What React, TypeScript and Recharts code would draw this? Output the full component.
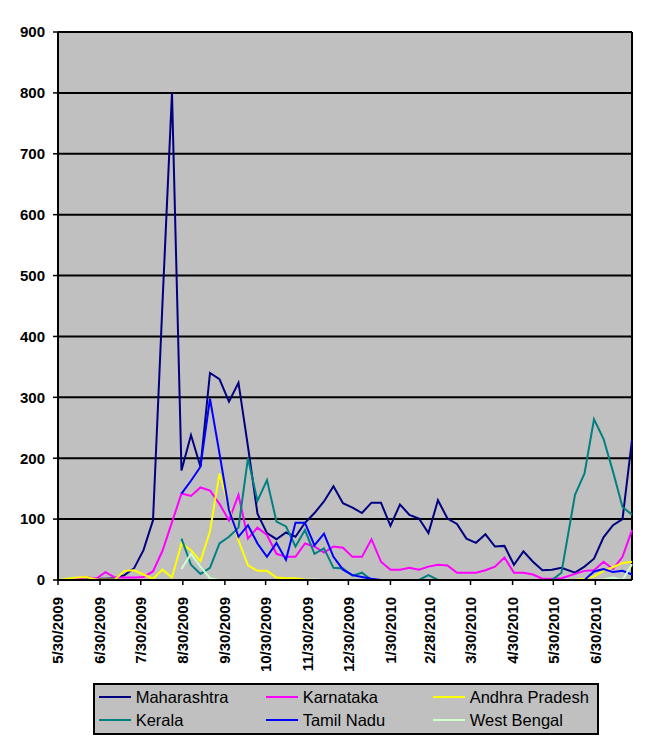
import React from "react";
import {
  LineChart,
  Line,
  XAxis,
  YAxis,
  CartesianGrid,
  Legend,
  ReferenceLine,
} from "recharts";

const FONT = '"Liberation Sans", Arial, Helvetica, sans-serif';

// weekly report dates
const dates = [
  "2009-05-30", "2009-06-06", "2009-06-13", "2009-06-20", "2009-06-27",
  "2009-07-04", "2009-07-11", "2009-07-18", "2009-07-25", "2009-08-01",
  "2009-08-08", "2009-08-15", "2009-08-22", "2009-08-29", "2009-09-05",
  "2009-09-12", "2009-09-19", "2009-09-26", "2009-10-03", "2009-10-10",
  "2009-10-17", "2009-10-24", "2009-10-31", "2009-11-07", "2009-11-14",
  "2009-11-21", "2009-11-28", "2009-12-05", "2009-12-12", "2009-12-19",
  "2009-12-26", "2010-01-02", "2010-01-09", "2010-01-16", "2010-01-23",
  "2010-01-30", "2010-02-06", "2010-02-13", "2010-02-20", "2010-02-27",
  "2010-03-06", "2010-03-13", "2010-03-20", "2010-03-27", "2010-04-03",
  "2010-04-10", "2010-04-17", "2010-04-24", "2010-05-01", "2010-05-08",
  "2010-05-15", "2010-05-22", "2010-05-29", "2010-06-05", "2010-06-15",
  "2010-06-22", "2010-06-29", "2010-07-06", "2010-07-13", "2010-07-20",
  "2010-07-27",
];

const N = null;

const maharashtra = [
  0, 0, 1, 1, 2, 2, 3, 8, 19, 49,
  98, 455, 800, 180, 238, 186, 340, 330, 293, 324,
  219, 109, 77, 67, 78, 71, 94, 110, 129, 154,
  126, 119, 110, 127, 127, 89, 124, 107, 101, 77,
  131, 101, 92, 68, 61, 75, 55, 56, 25, 47,
  30, 16, 17, 20, 12, 22, 35, 70, 90, 100,
  230,
];

const karnataka = [
  0, 0, 2, 5, 2, 13, 4, 4, 4, 5,
  14, 48, 95, 142, 138, 152, 147, 125, 98, 140,
  68, 86, 74, 43, 38, 38, 60, 55, 45, 55,
  53, 38, 38, 67, 30, 17, 17, 20, 17, 22,
  25, 24, 12, 12, 12, 16, 22, 37, 12, 12,
  9, 2, 2, 3, 10, 15, 16, 30, 18, 38,
  82,
];

const andhraPradesh = [
  0, 2, 4, 5, 1, 1, 1, 15, 16, 9,
  2, 17, 4, 60, 49, 31, 80, 175, 120, 65,
  24, 15, 15, 4, 3, 3, 1, 0, 0, 0,
  0, 0, 0, 0, 0, 0, 0, 0, 0, 0,
  0, 0, 0, 0, 0, 0, 0, 0, 0, 0,
  0, 0, 0, 0, 0, 2, 6, 15, 21, 28,
  30,
];

const kerala = [
  N, N, N, N, N, N, N, N, N, N, N, N, N,
  68, 25, 10, 20, 60, 71, 86, 200, 130, 164,
  96, 88, 55, 82, 43, 52, 20, 19, 7, 12,
  0, 0, 0, 0, 0, 0, 8, 0, 0, 0,
  0, 0, 0, 0, 0, 0, 0, 0, 0, 0,
  12, 140, 175, 264, 232, 178, 120, 107,
];

const tamilNadu = [
  N, N, N, N, N, N, N, N, N, N, N, N, N,
  142, 163, 186, 298, 208, 115, 71, 90, 60, 38,
  61, 33, 94, 94, 57, 76, 38, 17, 8, 5,
  2, 0, 0, 0, 0, 0, 0, 0, 0, 0,
  0, 0, 0, 0, 0, 0, 0, 0, 0, 0,
  0, 0, 0, 14, 18, 13, 15, 9,
];

const westBengal = [
  N, N, N, N, N, N, N, N, N, N, N, N, N,
  18, 43, 22, 3, 0, 0, 0, 0, 0, 0,
  0, 0, 0, 0, 1, 0, 0, 0, 0, 0,
  0, 0, 0, 0, 0, 0, 0, 0, 0, 0,
  0, 0, 0, 0, 0, 0, 0, 0, 0, 0,
  0, 0, 0, 0, 1, 4, 0, 26,
];

const tickDates = [
  "2009-05-30", "2009-06-30", "2009-07-30", "2009-08-30", "2009-09-30",
  "2009-10-30", "2009-11-30", "2009-12-30", "2010-01-30", "2010-02-28",
  "2010-03-30", "2010-04-30", "2010-05-30", "2010-06-30",
];
const tickLabels = [
  "5/30/2009", "6/30/2009", "7/30/2009", "8/30/2009", "9/30/2009",
  "10/30/2009", "11/30/2009", "12/30/2009", "1/30/2010", "2/28/2010",
  "3/30/2010", "4/30/2010", "5/30/2010", "6/30/2010",
];

const yTicks = [0, 100, 200, 300, 400, 500, 600, 700, 800, 900];

const series = [
  { name: "Maharashtra", color: "#000080", values: maharashtra },
  { name: "Karnataka", color: "#FF00FF", values: karnataka },
  { name: "Andhra Pradesh", color: "#FFFF00", values: andhraPradesh },
  { name: "Kerala", color: "#008080", values: kerala },
  { name: "Tamil Nadu", color: "#0000FF", values: tamilNadu },
  { name: "West Bengal", color: "#CCFFCC", values: westBengal },
];
const seriesOrder = series.map((s) => s.name);

const data = dates.map((d, i) => {
  const row: Record<string, number | null> = { t: Date.parse(d) };
  series.forEach((s) => {
    row[s.name] = s.values[i];
  });
  return row;
});

const tickTimes = tickDates.map((d) => Date.parse(d));
const tStart = Date.parse(dates[0]);
const tEnd = Date.parse(dates[dates.length - 1]);

function DateTick(props: any) {
  const { x, y, payload } = props;
  const idx = tickTimes.indexOf(payload.value);
  return (
    <g transform={`translate(${x},${y})`}>
      <text
        x={-10}
        y={0}
        dy="0.36em"
        textAnchor="end"
        transform="rotate(-90)"
        fill="#000"
        fontFamily={FONT}
        fontWeight="bold"
        fontSize={15}
      >
        {idx >= 0 ? tickLabels[idx] : ""}
      </text>
    </g>
  );
}

function LegendBox(props: any) {
  // keep the legend in series order (3 per row)
  const items = [...(props.payload || [])].sort(
    (a: any, b: any) => seriesOrder.indexOf(a.value) - seriesOrder.indexOf(b.value)
  );
  return (
    <div
      style={{
        position: "relative",
        width: 506,
        height: 52,
        boxSizing: "border-box",
        border: "2px solid #000",
        background: "#C0C0C0",
        fontFamily: FONT,
      }}
    >
      {items.map((item: any, i: number) => {
        const col = i % 3;
        const row = Math.floor(i / 3);
        const cy = row === 0 ? 11.7 : 35;
        return (
          <React.Fragment key={item.value}>
            <div
              style={{
                position: "absolute",
                left: 4.3 + col * 167,
                top: cy - 1,
                width: 32,
                height: 2,
                background: item.color,
              }}
            />
            <div
              style={{
                position: "absolute",
                left: 40.7 + col * 167,
                top: cy - 10,
                height: 20,
                lineHeight: "20px",
                fontSize: 16.5,
                color: "#000",
                whiteSpace: "nowrap",
              }}
            >
              {item.value}
            </div>
          </React.Fragment>
        );
      })}
    </div>
  );
}

export default function App() {
  return (
    <div style={{ position: "absolute", left: 0, top: 0, width: 665, height: 748, background: "#fff" }}>
      <LineChart
        width={665}
        height={748}
        data={data}
        margin={{ top: 32, right: 33, bottom: 8, left: 8 }}
        style={{ fontFamily: FONT }}
      >
        <CartesianGrid
          vertical={false}
          stroke="#000"
          strokeWidth={2}
          fill="#C0C0C0"
          fillOpacity={1}
        />
        <XAxis
          dataKey="t"
          type="number"
          domain={[tStart, tEnd]}
          ticks={tickTimes}
          interval={0}
          height={160}
          tick={<DateTick />}
          tickSize={5}
          tickMargin={2}
          tickLine={{ stroke: "#000", strokeWidth: 1.5 }}
          axisLine={{ stroke: "#000", strokeWidth: 2 }}
        />
        <YAxis
          domain={[0, 900]}
          ticks={yTicks}
          interval={0}
          width={50}
          tickSize={5}
          tickMargin={8}
          tick={{ fill: "#000", fontSize: 15, fontWeight: "bold", fontFamily: FONT }}
          tickLine={{ stroke: "#000", strokeWidth: 1.5 }}
          axisLine={{ stroke: "#000", strokeWidth: 2 }}
        />
        <ReferenceLine x={tEnd} stroke="#000" strokeWidth={2} />
        {series.map((s) => (
          <Line
            key={s.name}
            type="linear"
            dataKey={s.name}
            name={s.name}
            stroke={s.color}
            strokeWidth={2}
            dot={false}
            activeDot={false}
            isAnimationActive={false}
          />
        ))}
        <Legend
          layout="horizontal"
          verticalAlign="middle"
          align="center"
          width={506}
          height={52}
          wrapperStyle={{ left: 93, top: 683, width: 506, height: 52 }}
          content={<LegendBox />}
        />
      </LineChart>
    </div>
  );
}
